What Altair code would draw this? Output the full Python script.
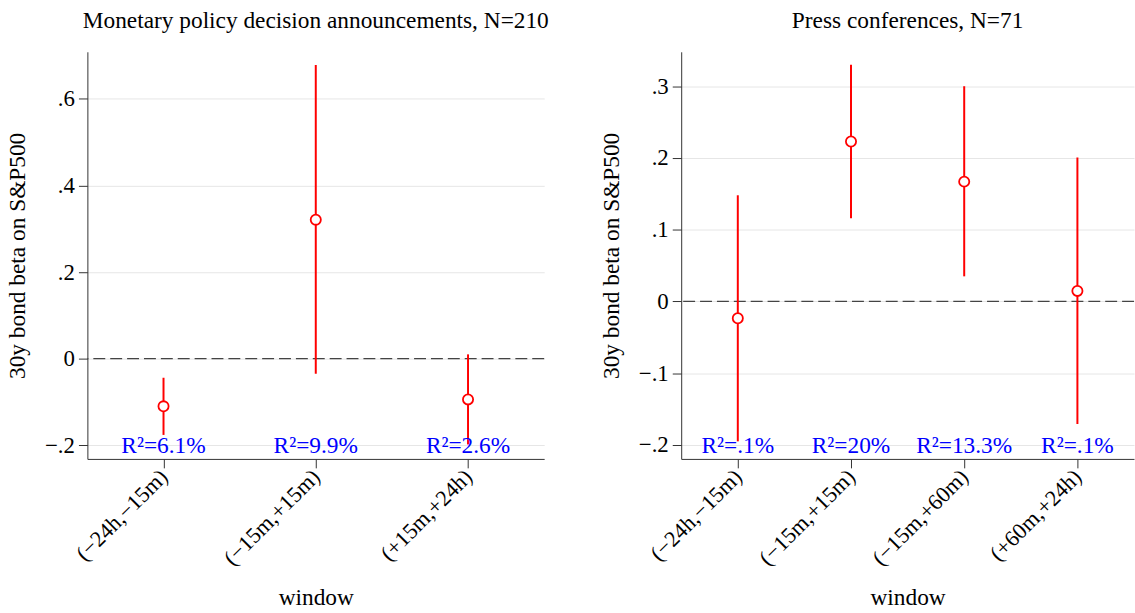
import altair as alt
import pandas as pd

# ---- data ----
left_windows = ["(−24h,−15m)", "(−15m,+15m)", "(+15m,+24h)"]
left_beta = [-0.110, 0.321, -0.094]
left_lo = [-0.176, -0.035, -0.198]
left_hi = [-0.044, 0.678, 0.010]
left_r2 = ["6.1%", "9.9%", "2.6%"]
left_ticks = [-0.2, 0, 0.2, 0.4, 0.6]

right_windows = ["(−24h,−15m)", "(−15m,+15m)", "(−15m,+60m)", "(+60m,+24h)"]
right_beta = [-0.0235, 0.223, 0.167, 0.0147]
right_lo = [-0.195, 0.116, 0.035, -0.171]
right_hi = [0.148, 0.330, 0.300, 0.2005]
right_r2 = [".1%", "20%", "13.3%", ".1%"]
right_ticks = [-0.2, -0.1, 0, 0.1, 0.2, 0.3]

FONT = "Liberation Serif"
YTITLE = "30y bond beta on S&P500"
LABEL_EXPR = ("datum.value == 0 ? '0' : "
              "replace(replace(format(datum.value, '.1f'), '0.', '.'), '-', '\u2212')")


def panel(title, windows, beta, lo, hi, r2, domain, ticks, width):
    df = pd.DataFrame({
        "window": windows, "beta": beta, "lo": lo, "hi": hi,
        "r2": ["R\u00b2=" + s for s in r2],
        "r2y": [ticks[0]] * len(windows),
    })
    zdf = pd.DataFrame({"z": [0.0]})
    yscale = alt.Scale(domain=domain, nice=False, zero=False)
    xscale = alt.Scale(type="point", padding=0.5)
    xaxis = alt.Axis(title="window", labelAngle=-45, labelAlign="right",
                     labelBaseline="middle", tickSize=9, labelPadding=5,
                     grid=False, domainColor="#333333", tickColor="#333333",
                     labelFont=FONT, labelFontSize=22.5, labelColor="black",
                     titleFont=FONT, titleFontSize=23.5, titleFontWeight="normal",
                     titleColor="black", titlePadding=16)
    yaxis = alt.Axis(title=YTITLE, values=ticks, labelExpr=LABEL_EXPR,
                     grid=True, gridColor="#e6e6e6", domainColor="#333333",
                     tickColor="#333333", tickSize=9, labelPadding=4,
                     labelFont=FONT, labelFontSize=23, labelColor="black",
                     titleFont=FONT, titleFontSize=23.5, titleFontWeight="normal",
                     titleColor="black", titlePadding=8,
                     minExtent=50, maxExtent=50)
    x = alt.X("window:N", sort=windows, scale=xscale, axis=xaxis)

    zero = alt.Chart(zdf).mark_rule(color="#444444", strokeDash=[12, 5],
                                    strokeWidth=1.2).encode(
        y=alt.Y("z:Q", scale=yscale, axis=yaxis))
    ci = alt.Chart(df).mark_rule(color="#ff0000", strokeWidth=2).encode(
        x=x, y=alt.Y("lo:Q", scale=yscale, axis=yaxis), y2="hi:Q")
    pts = alt.Chart(df).mark_point(shape="circle", filled=False, fill="white",
                                   fillOpacity=1, color="#ff0000",
                                   strokeWidth=1.8, size=105, opacity=1).encode(
        x=x, y=alt.Y("beta:Q", scale=yscale, axis=yaxis))
    txt = alt.Chart(df).mark_text(font=FONT, fontSize=23.5, color="#0000ff",
                                  baseline="alphabetic", dy=8).encode(
        x=x, y=alt.Y("r2y:Q", scale=yscale, axis=yaxis), text="r2:N")

    return alt.layer(zero, ci, pts, txt).properties(
        width=width, height=410,
        title=alt.TitleParams(title, font=FONT, fontSize=23.5,
                              fontWeight="normal", color="black",
                              anchor="middle", offset=19))


left = panel("Monetary policy decision announcements, N=210", left_windows,
             left_beta, left_lo, left_hi, left_r2, [-0.2314, 0.7086],
             left_ticks, 460)
right = panel("Press conferences, N=71", right_windows, right_beta, right_lo,
              right_hi, right_r2, [-0.2195, 0.348], right_ticks, 456)

chart = alt.hconcat(left, right, spacing=51).properties(
    padding={"left": 6, "top": 7, "right": 0, "bottom": 0},
    background="white",
).configure_view(stroke=None)

chart.save("out.html", embed_options={"renderer": "svg", "actions": False})
